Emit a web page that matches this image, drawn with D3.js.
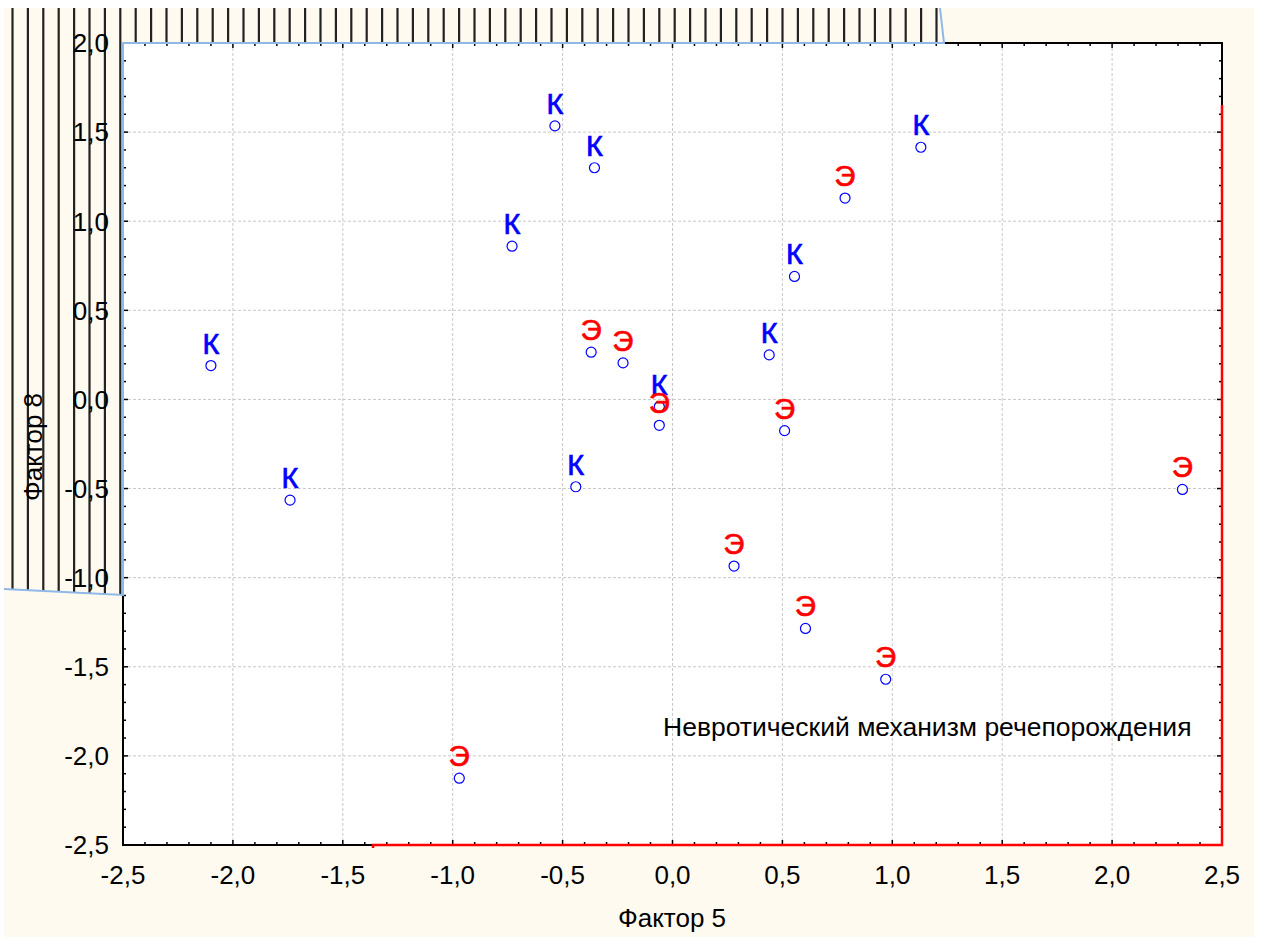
<!DOCTYPE html>
<html>
<head>
<meta charset="utf-8">
<script src="https://cdn.jsdelivr.net/npm/d3@7"></script>
<style>
  body { margin: 0; background: #fff; }
  text { font-family: "Liberation Sans", Arial, sans-serif; }
</style>
</head>
<body>
<svg id="canvas" width="1265" height="941"></svg>
<script>
// K points (blue labels)
const k_x = [-2.10, -1.74, -0.73, -0.535, -0.355, -0.44, -0.06, 0.44, 0.555, 1.13];
const k_y = [0.19, -0.565, 0.86, 1.535, 1.30, -0.49, -0.04, 0.25, 0.69, 1.415];
// Э points (red labels)
const e_x = [-0.37, -0.225, -0.06, 0.51, 0.785, 0.28, 0.605, 0.97, -0.97, 2.32];
const e_y = [0.265, 0.205, -0.145, -0.175, 1.13, -0.935, -1.285, -1.57, -2.125, -0.505];

const x_ticks = [-2.5, -2.0, -1.5, -1.0, -0.5, 0.0, 0.5, 1.0, 1.5, 2.0, 2.5];
const y_ticks = [-2.5, -2.0, -1.5, -1.0, -0.5, 0.0, 0.5, 1.0, 1.5, 2.0];

const x_title = "Фактор 5";
const y_title = "Фактор 8";
const note = "Невротический механизм речепорождения";

const svg = d3.select("svg#canvas");
const p_left = 123, p_right = 1222, p_top = 43, p_bottom = 845;

const x = d3.scaleLinear().domain([-2.5, 2.5]).range([p_left, p_right]);
const y = d3.scaleLinear().domain([-2.5, 2.0]).range([p_bottom, p_top]);

const fmt = d3.formatLocale({decimal: ",", thousands: " ", grouping: [3], currency: ["", ""], minus: "-"}).format(".1f");

// cream page
svg.append("rect").attr("x", 4).attr("y", 8).attr("width", 1250).attr("height", 929).attr("fill", "#fffaf0");

// hatched zones (left strip + top strip)
const hatch_d = `M4,8 L940,8 L944,${p_top} L${p_left},${p_top} L${p_left},595 Q60,592 4,589 Z`;
svg.append("clipPath").attr("id", "hclip").append("path").attr("d", hatch_d);
svg.append("g").attr("clip-path", "url(#hclip)")
    .selectAll("line")
    .data(d3.range(12.5, 945, 15.4))
    .join("line")
    .attr("x1", d => d).attr("x2", d => d)
    .attr("y1", 0).attr("y2", 600)
    .attr("stroke", "#222").attr("stroke-width", 2.2);

// plot area
svg.append("rect").attr("x", p_left).attr("y", p_top).attr("width", p_right - p_left).attr("height", p_bottom - p_top).attr("fill", "#fff");

// grid
const grid = svg.append("g").attr("stroke", "#c8c8c8").attr("stroke-dasharray", "3,2").attr("stroke-width", 1);
grid.append("g").selectAll("line").data(x_ticks.slice(1, -1)).join("line")
    .attr("x1", d => x(d)).attr("x2", d => x(d)).attr("y1", p_top).attr("y2", p_bottom);
grid.append("g").selectAll("line").data(y_ticks.slice(1, -1)).join("line")
    .attr("y1", d => y(d)).attr("y2", d => y(d)).attr("x1", p_left).attr("x2", p_right);

// frame + inward ticks
const minor_x = d3.range(-25, 26).map(d => d / 10);
const minor_y = d3.range(-25, 21).map(d => d / 10);
const axes = svg.append("g").attr("stroke", "#000").attr("stroke-width", 1.5);
axes.append("rect").attr("x", p_left).attr("y", p_top).attr("width", p_right - p_left).attr("height", p_bottom - p_top).attr("fill", "none").attr("stroke-width", 2);
[[p_bottom, -1], [p_top, 1]].forEach(([yy, s]) => {
    axes.append("g").selectAll("line").data(minor_x).join("line")
        .attr("x1", d => x(d)).attr("x2", d => x(d))
        .attr("y1", yy).attr("y2", d => yy + s * (x_ticks.includes(d) ? 5 : 3));
});
[[p_left, 1], [p_right, -1]].forEach(([xx, s]) => {
    axes.append("g").selectAll("line").data(minor_y).join("line")
        .attr("y1", d => y(d)).attr("y2", d => y(d))
        .attr("x1", xx).attr("x2", d => xx + s * (y_ticks.includes(d) ? 5 : 3));
});

// coloured frame segments
svg.append("path").attr("d", `M4,589 Q60,592 ${p_left},595 L${p_left},${p_top} L944,${p_top} L940,8`)
    .attr("fill", "none").attr("stroke", "#8fb8e8").attr("stroke-width", 2);
svg.append("path").attr("d", `M${p_right},105 L${p_right},${p_bottom} L373,${p_bottom} L373,848`)
    .attr("fill", "none").attr("stroke", "#ff0000").attr("stroke-width", 2.5);

// tick labels
svg.append("g").selectAll("text").data(x_ticks).join("text")
    .attr("x", d => x(d)).attr("y", 884)
    .attr("text-anchor", "middle").attr("font-size", 26).attr("fill", "#000")
    .text(fmt);
svg.append("g").selectAll("text").data(y_ticks).join("text")
    .attr("x", 109).attr("y", d => y(d) + 9.3)
    .attr("text-anchor", "end").attr("font-size", 26).attr("fill", "#000")
    .text(fmt);

// axis titles
svg.append("text").attr("x", 672).attr("y", 927).attr("text-anchor", "middle")
    .attr("font-size", 26).text(x_title);
svg.append("text").attr("transform", "translate(42,447) rotate(-90)").attr("text-anchor", "middle")
    .attr("font-size", 26).text(y_title);

// note
svg.append("text").attr("x", 663).attr("y", 736).attr("font-size", 26.5).text(note);

// points
const draw = (xs, ys) => {
    svg.append("g").selectAll("circle").data(xs).join("circle")
        .attr("cx", d => x(d)).attr("cy", (_, i) => y(ys[i])).attr("r", 5)
        .attr("fill", "#fff").attr("stroke", "#0000ff").attr("stroke-width", 1.2);
};
const labels = (xs, ys, lab, col) => {
    svg.append("g").selectAll("text").data(xs).join("text")
        .attr("x", d => x(d)).attr("y", (_, i) => y(ys[i]) - 12)
        .attr("text-anchor", "middle").attr("font-size", 29).attr("fill", col)
        .attr("stroke", col).attr("stroke-width", 0.7)
        .text(lab);
};
draw(k_x, k_y);
draw(e_x, e_y);
labels(k_x, k_y, "К", "#0000ff");
labels(e_x, e_y, "Э", "#ff0000");
</script>
</body>
</html>
